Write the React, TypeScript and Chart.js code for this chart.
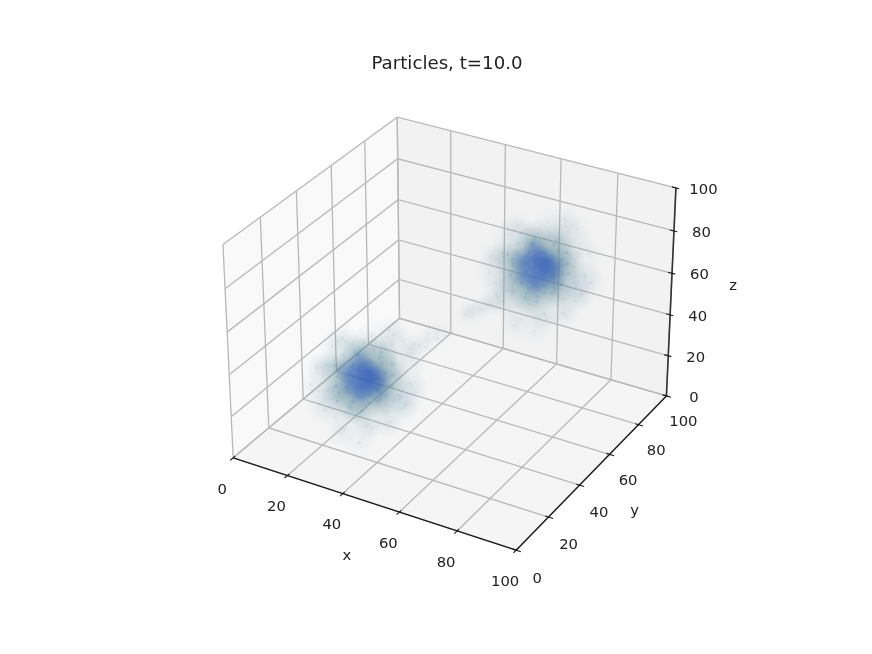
import React, { useEffect, useRef } from "react";
import { Chart, registerables } from "chart.js";

Chart.register(...registerables);

const titleText = "Particles, t=10.0";
const tickValues = [0, 20, 40, 60, 80, 100];
const tickLabels = ["0", "20", "40", "60", "80", "100"];

type P3 = number[];

const haloA: P3[] = [[14,30,28],[16,24,33],[17,36,25],[18,18,30],[19,41,31],[20,28,18],[20,33,43],[21,22,38],[22,44,26],[22,16,24],[23,36,14],[23,26,47],[24,13,33],[24,39,38],[25,48,30],[25,20,16],[26,31,10],[26,12,42],[27,42,18],[27,24,50],[28,50,36],[28,9,28],[29,36,46],[29,17,12],[30,47,20],[30,14,47],[31,28,8],[31,43,44],[32,8,36],[32,52,27],[33,20,50],[33,37,13],[34,11,20],[34,46,38],[35,27,48],[35,18,9],[36,41,15],[36,9,42],[37,35,45],[37,22,14],[38,46,28],[38,13,30],[39,30,12],[39,26,46],[40,40,24],[40,15,22],[41,22,40],[41,33,17],[42,29,35],[42,17,33],[43,36,27],[43,21,20],[44,26,30],[44,31,22],[45,18,28],[46,27,25],[47,22,32],[48,30,30],[18,30,40],[21,38,20],[24,28,24],[26,36,34],[27,18,34],[29,28,40],[31,38,28],[33,24,22],[35,32,36],[37,28,24],[39,20,34],[22,30,32],[25,25,42],[28,40,25],[30,22,20],[32,32,42],[34,18,32],[36,26,34],[26,26,18],[24,34,22],[38,34,36],[20,24,24]];
const midA: P3[] = [[20,30,30],[21,26,35],[22,34,26],[23,24,27],[23,37,33],[24,29,21],[25,22,34],[25,35,38],[26,40,28],[26,20,24],[27,31,39],[27,27,19],[28,18,30],[28,37,22],[29,25,39],[29,40,33],[30,21,22],[30,32,20],[31,19,35],[31,38,37],[32,27,39],[32,35,24],[33,23,20],[33,41,30],[34,20,29],[34,33,36],[35,29,21],[35,25,37],[36,36,29],[36,22,26],[37,30,35],[37,27,24],[38,24,31],[38,33,27],[39,29,30],[40,26,28],[24,32,31],[27,24,28],[31,30,26],[33,30,33]];
const coreA: P3[] = [[24,30,30],[25,27,33],[25,33,27],[26,29,25],[26,34,33],[27,25,29],[27,31,35],[28,28,24],[28,35,29],[29,25,33],[29,31,26],[30,27,36],[30,33,31],[30,29,24],[31,26,28],[31,34,27],[32,29,34],[32,25,25],[33,32,29],[33,27,31],[34,30,26],[34,26,33],[35,31,31],[36,28,28],[29,29,30],[31,31,32],[28,31,30],[32,28,28]];

const haloB: P3[] = [[53,71,68],[55,64,74],[56,77,63],[57,60,70],[58,82,72],[59,68,57],[59,74,84],[60,62,79],[61,85,65],[61,57,63],[62,76,54],[62,66,88],[63,53,72],[63,80,78],[64,89,71],[64,60,56],[65,71,51],[65,52,83],[66,84,59],[66,63,90],[67,91,76],[67,50,67],[68,77,87],[68,56,52],[69,88,60],[69,54,88],[70,68,49],[70,84,85],[71,49,77],[71,93,68],[72,60,91],[72,78,53],[73,51,60],[73,87,79],[74,67,89],[74,58,50],[75,82,55],[75,50,83],[76,75,86],[76,62,54],[77,87,69],[77,53,71],[78,70,52],[78,66,87],[79,81,64],[79,55,62],[80,62,81],[80,73,57],[81,69,76],[81,57,74],[82,76,67],[82,61,60],[83,66,71],[83,71,62],[84,58,69],[85,67,66],[86,62,73],[87,70,70],[57,70,81],[60,79,61],[63,68,64],[65,76,75],[66,58,75],[68,68,81],[70,79,69],[72,64,62],[74,72,77],[76,68,64],[78,60,75],[61,70,73],[64,65,83],[67,81,66],[69,62,60],[71,72,83],[73,58,73],[75,66,75],[65,66,58],[63,74,62],[77,74,77],[59,64,64]];
const midB: P3[] = [[59,71,70],[60,66,76],[61,75,66],[62,64,68],[62,78,74],[63,70,61],[64,62,75],[64,76,79],[65,81,69],[65,60,64],[66,71,80],[66,67,59],[67,58,71],[67,78,62],[68,65,80],[68,81,74],[69,61,62],[69,73,60],[70,59,76],[70,79,78],[71,67,80],[71,76,64],[72,63,60],[72,82,71],[73,60,70],[73,74,77],[74,69,61],[74,65,78],[75,77,70],[75,62,66],[76,71,76],[76,67,64],[77,64,72],[77,74,68],[78,69,71],[79,66,69],[63,72,72],[66,64,69],[70,71,66],[72,71,74]];
const coreB: P3[] = [[63,71,71],[64,67,74],[64,74,68],[65,69,65],[65,75,74],[66,65,70],[66,72,76],[67,68,64],[67,76,70],[68,65,74],[68,72,66],[69,67,77],[69,74,72],[69,69,64],[70,66,69],[70,75,68],[71,69,75],[71,65,65],[72,73,70],[72,67,72],[73,71,66],[73,66,74],[74,72,72],[75,68,69],[68,69,71],[70,72,73],[67,72,71],[71,68,69]];

const bridge: P3[] = [[40,41,38],[42,40,44],[41,44,40],[44,43,41],[43,46,45],[45,42,46],[46,47,43],[38,44,37],[47,45,48],[48,48,45],[53,52,54],[54,55,52],[55,53,57],[56,56,55],[57,58,56],[58,55,59],[59,57,58],[60,60,57],[52,56,53],[61,58,61]];

// Matplotlib's default 3D camera (elev 30, azim -60, box aspect 4:4:3).
const BOX = [1.19059, 1.19059, 0.89294];
const U = [0.86603, 0.5, 0];
const V = [-0.25, 0.43301, 0.86603];
const W = [0.43301, -0.75, 0.5];
const SCALE = 2722.2;

function project(p: P3) {
  const q = p.map((v, i) => (v / 100 - 0.5) * BOX[i]);
  const dot = (a: number[]) => a[0] * q[0] + a[1] * q[1] + a[2] * q[2];
  const depth = 10 - dot(W);
  return {
    x: 195.2 + (dot(U) / depth + 0.095) * SCALE,
    y: 582 - (dot(V) / depth + 0.095) * SCALE,
  };
}

const GRID = "#b8b8b8";
const AXIS = "#1a1a1a";
const FONT = '"DejaVu Sans", sans-serif';
const TITLE_TOP = 53;
const TITLE_SIZE = 18.2;
const TITLE_H = TITLE_TOP + Math.round(TITLE_SIZE * 1.2);
const PAD_LEFT = 22;

function line(points: P3[], color: string, width: number) {
  return {
    type: "scatter",
    data: points.map(project),
    showLine: true,
    borderColor: color,
    borderWidth: width,
    pointRadius: 0,
    fill: false,
    tension: 0,
  };
}

function pane(points: P3[], color: string) {
  return {
    type: "scatter",
    data: [...points, points[0]].map(project),
    showLine: true,
    borderWidth: 0,
    borderColor: color,
    backgroundColor: color,
    pointRadius: 0,
    fill: "shape",
  };
}

function softDot(rgb: string, radius: number, peak: number) {
  const c = document.createElement("canvas");
  c.width = c.height = radius * 2;
  const g = c.getContext("2d")!;
  const grad = g.createRadialGradient(radius, radius, 0, radius, radius, radius);
  grad.addColorStop(0, `rgba(${rgb},${peak})`);
  grad.addColorStop(0.5, `rgba(${rgb},${peak * 0.45})`);
  grad.addColorStop(1, `rgba(${rgb},0)`);
  g.fillStyle = grad;
  g.fillRect(0, 0, radius * 2, radius * 2);
  return c;
}

function cloud(points: P3[], rgb: string, radius: number, peak: number) {
  return {
    type: "scatter",
    data: points.map(project),
    showLine: false,
    pointStyle: softDot(rgb, radius, peak),
    pointRadius: radius,
    pointBorderWidth: 0,
  };
}

function specks(points: P3[], color: string, radius: number) {
  return {
    type: "scatter",
    data: points.map(project),
    showLine: false,
    backgroundColor: color,
    pointBorderWidth: 0,
    pointRadius: radius,
  };
}

const tickTextPlugin = {
  id: "tickText",
  afterDatasetsDraw(chart: any) {
    const { ctx, scales } = chart;
    const put = (text: string, p: { x: number; y: number }, dx: number, dy: number, size = 14.8) => {
      ctx.font = `${size}px ${FONT}`;
      ctx.fillText(text, scales.x.getPixelForValue(p.x) + dx, scales.y.getPixelForValue(p.y) + dy);
    };
    ctx.save();
    ctx.fillStyle = "#222";
    ctx.textAlign = "center";
    ctx.textBaseline = "middle";
    tickValues.forEach((v, i) => {
      put(tickLabels[i], project([v, 0, 0]), -11, 32);
      put(tickLabels[i], project([100, v, 0]), 17 + (100 - v) * 0.04, 26 + (100 - v) * 0.03);
      put(tickLabels[i], project([100, 100, v]), 27.5, 2);
    });
    put("x", project([50, 0, 0]), -24, 53);
    put("y", project([100, 50, 0]), 40, 42);
    put("z", project([100, 100, 50]), 62, -8);
    ctx.restore();
  },
};

export default function App() {
  const ref = useRef<HTMLCanvasElement>(null);
  useEffect(() => {
    const layers: any[] = [
      pane([[0, 0, 0], [0, 100, 0], [0, 100, 100], [0, 0, 100]], "#f9f9f9"),
      pane([[0, 100, 0], [100, 100, 0], [100, 100, 100], [0, 100, 100]], "#f2f2f2"),
      pane([[0, 0, 0], [100, 0, 0], [100, 100, 0], [0, 100, 0]], "#f5f5f5"),
    ];
    tickValues.forEach((v) => {
      layers.push(line([[v, 0, 0], [v, 100, 0], [v, 100, 100]], GRID, 1.3));
      layers.push(line([[100, v, 0], [0, v, 0], [0, v, 100]], GRID, 1.3));
      layers.push(line([[0, 0, v], [0, 100, v], [100, 100, v]], GRID, 1.3));
    });
    layers.push(cloud(bridge, "125,165,190", 12, 0.06));
    layers.push(cloud(haloA, "125,165,190", 16, 0.09));
    layers.push(cloud(haloB, "125,165,190", 16, 0.09));
    layers.push(cloud(midA, "105,150,160", 18, 0.17));
    layers.push(cloud(midB, "105,150,160", 18, 0.17));
    layers.push(cloud(coreA, "50,95,190", 13, 0.25));
    layers.push(cloud(coreB, "50,95,190", 13, 0.25));
    layers.push(specks(haloA, "rgba(110,150,180,0.1)", 1.3));
    layers.push(specks(haloB, "rgba(110,150,180,0.1)", 1.3));
    layers.push(specks(midA, "rgba(60,110,180,0.14)", 1.6));
    layers.push(specks(midB, "rgba(60,110,180,0.14)", 1.6));
    layers.push(specks(bridge, "rgba(110,150,180,0.08)", 1.3));
    layers.push(line([[0, 0, 0], [100, 0, 0]], AXIS, 1.3));
    layers.push(line([[100, 0, 0], [100, 100, 0]], AXIS, 1.3));
    layers.push(line([[100, 100, 0], [100, 100, 100]], "#333", 1.6));
    tickValues.forEach((v) => {
      layers.push(line([[v, -1.6, 0], [v, 1.1, 0]], AXIS, 1.1));
      layers.push(line([[101.6, v, 0], [98.9, v, 0]], AXIS, 1.1));
      layers.push(line([[101.1, 100, v], [98.6, 100, v]], AXIS, 1.1));
    });
    const chart = new Chart(ref.current!, {
      type: "scatter",
      data: { datasets: layers.reverse() },
      plugins: [tickTextPlugin],
      options: {
        responsive: false,
        animation: false,
        clip: false,
        layout: { autoPadding: false, padding: { left: PAD_LEFT, top: 0, right: 0, bottom: 0 } },
        scales: {
          x: { type: "linear", display: false, min: PAD_LEFT, max: 872 },
          y: { type: "linear", display: false, min: TITLE_H, max: 654, reverse: true },
        },
        plugins: {
          legend: { display: false },
          tooltip: { enabled: false },
          title: {
            display: true,
            text: titleText,
            color: "#222",
            font: { family: FONT, size: TITLE_SIZE, weight: "normal", lineHeight: 1.2 },
            padding: { top: TITLE_TOP, bottom: 0 },
          },
        },
      },
    } as any);
    return () => chart.destroy();
  }, []);
  return (
    <div style={{ position: "fixed", left: 0, top: 0, width: 872, height: 654, background: "#fff" }}>
      <canvas ref={ref} width={872} height={654} style={{ display: "block" }} />
    </div>
  );
}
